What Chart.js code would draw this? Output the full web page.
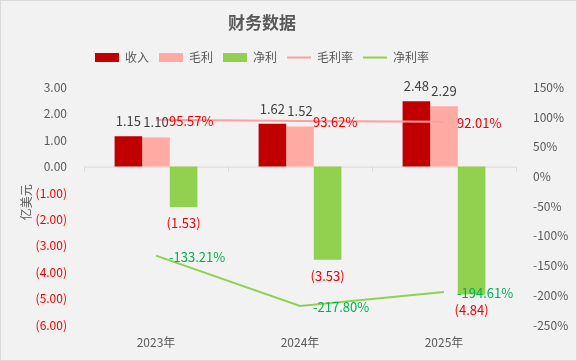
<!DOCTYPE html>
<html>
<head>
<meta charset="utf-8">
<script src="https://cdn.jsdelivr.net/npm/chart.js@4"></script>
<style>
    html, body { margin: 0; padding: 0; background: #f2f2f2; }
    #wrap { width: 577px; height: 361px; box-sizing: border-box; border: 1px solid #d9d9d9; background: #f2f2f2; }
</style>
</head>
<body>
<div id="wrap"><canvas id="chart" width="575" height="359"></canvas></div>
<script>
const years = ["2023年", "2024年", "2025年"]
const revenue = [1.15, 1.62, 2.48]
const grossProfit = [1.10, 1.52, 2.29]
const netProfit = [-1.53, -3.53, -4.84]
const grossMargin = [95.57, 93.62, 92.01]
const netMargin = [-133.21, -217.80, -194.61]
const axisTitle = "亿美元"

const FONT = "'Noto Sans CJK SC', 'Noto Sans', sans-serif"
const GRAY = "#595959"
const RED = "#ee0000"

function money(v) {
    return v < 0 ? "(" + Math.abs(v).toFixed(2) + ")" : v.toFixed(2)
}

// zero line with little category ticks, plus the left axis title
const zeroLine = {
    id: "zeroLine",
    beforeDatasetsDraw(chart) {
        const ctx = chart.ctx
        const y = chart.scales.y.getPixelForValue(0)
        const area = chart.chartArea
        const step = (area.right - area.left) / years.length
        ctx.save()
        ctx.strokeStyle = "#d9d9d9"
        ctx.lineWidth = 1
        ctx.beginPath()
        ctx.moveTo(area.left, y + 0.5)
        ctx.lineTo(area.right, y + 0.5)
        for (let i = 0; i <= years.length; i++) {
            const px = Math.round(area.left + step * i) + 0.5
            ctx.moveTo(px, y)
            ctx.lineTo(px, y + 5)
        }
        ctx.stroke()

        ctx.translate(25, (area.top + area.bottom) / 2 - 4)
        ctx.rotate(-Math.PI / 2)
        ctx.font = "12px " + FONT
        ctx.fillStyle = GRAY
        ctx.textAlign = "center"
        ctx.textBaseline = "middle"
        ctx.fillText(axisTitle, 0, 0)
        ctx.restore()
    }
}

const valueLabels = {
    id: "valueLabels",
    afterDatasetsDraw(chart) {
        const ctx = chart.ctx
        ctx.save()
        ctx.font = "13px " + FONT
        ctx.textBaseline = "middle"
        chart.data.datasets.forEach((ds, di) => {
            const meta = chart.getDatasetMeta(di)
            meta.data.forEach((el, i) => {
                const v = ds.data[i]
                if (ds.type === "line") {
                    ctx.textAlign = "left"
                    ctx.fillStyle = ds.labelColor
                    ctx.fillText(v.toFixed(2) + "%", el.x + 13, el.y + 1)
                } else {
                    ctx.textAlign = "center"
                    if (v >= 0) {
                        ctx.fillStyle = "#404040"
                        ctx.fillText(money(v), el.x, el.y - 15)
                    } else {
                        ctx.fillStyle = RED
                        ctx.fillText(money(v), el.x, el.y + 16)
                    }
                }
            })
        })
        ctx.restore()
    }
}

// title and legend sit a bit left of the canvas centre, leave room under legend
const headerShift = {
    id: "headerShift",
    beforeInit(chart) {
        const fit = chart.legend.fit
        chart.legend.fit = function () {
            fit.bind(chart.legend)()
            this.height += 14
        }
    },
    afterLayout(chart) {
        chart.titleBlock.right -= 53
        chart.legend.right -= 53
    }
}

new Chart(document.getElementById("chart"), {
    data: {
        labels: years,
        datasets: [
            { type: "bar", label: "收入", data: revenue, backgroundColor: "#c00000", yAxisID: "y", order: 1, pointStyle: "rect" },
            { type: "bar", label: "毛利", data: grossProfit, backgroundColor: "#ffaaa2", yAxisID: "y", order: 1, pointStyle: "rect" },
            { type: "bar", label: "净利", data: netProfit, backgroundColor: "#92d050", yAxisID: "y", order: 1, pointStyle: "rect" },
            { type: "line", label: "毛利率", data: grossMargin, borderColor: "#ff9e9e", backgroundColor: "#ff9e9e", borderWidth: 2,
              pointRadius: 0, yAxisID: "y1", order: 0, pointStyle: "line", labelColor: RED },
            { type: "line", label: "净利率", data: netMargin, borderColor: "#92d050", backgroundColor: "#92d050", borderWidth: 2,
              pointRadius: 0, yAxisID: "y1", order: 0, pointStyle: "line", labelColor: "#00b050" },
        ]
    },
    options: {
        responsive: false,
        animation: false,
        events: [],
        layout: { padding: 0 },
        datasets: { bar: { categoryPercentage: 0.575, barPercentage: 1, borderWidth: 0 } },
        plugins: {
            title: {
                display: true,
                text: "财务数据",
                color: GRAY,
                font: { family: FONT, size: 17, weight: "bold" },
                padding: { top: 11, bottom: 9 }
            },
            legend: {
                labels: {
                    color: GRAY,
                    font: { family: FONT, size: 12 },
                    usePointStyle: true,
                    pointStyleWidth: 24,
                    boxHeight: 9,
                    padding: 10,
                    sort: (a, b) => a.datasetIndex - b.datasetIndex
                }
            },
            tooltip: { enabled: false }
        },
        scales: {
            x: {
                grid: { display: false, drawTicks: false },
                border: { display: false },
                ticks: { color: GRAY, font: { family: FONT, size: 12 }, padding: 10 },
                afterFit(s) { s.height = 35 }
            },
            y: {
                position: "left",
                min: -6, max: 3,
                grid: { display: false },
                border: { display: false },
                ticks: {
                    stepSize: 1,
                    padding: 9,
                    font: { family: FONT, size: 12 },
                    color: c => c.tick.value < 0 ? RED : GRAY,
                    callback: v => money(v)
                },
                afterFit(s) { s.width = 83 }
            },
            y1: {
                position: "right",
                min: -250, max: 150,
                grid: { display: false },
                border: { display: false },
                ticks: {
                    stepSize: 50,
                    padding: 9,
                    color: GRAY,
                    font: { family: FONT, size: 12 },
                    callback: v => v + "%"
                },
                afterFit(s) { s.width = 60 }
            }
        }
    },
    plugins: [zeroLine, valueLabels, headerShift]
})
</script>
</body>
</html>
